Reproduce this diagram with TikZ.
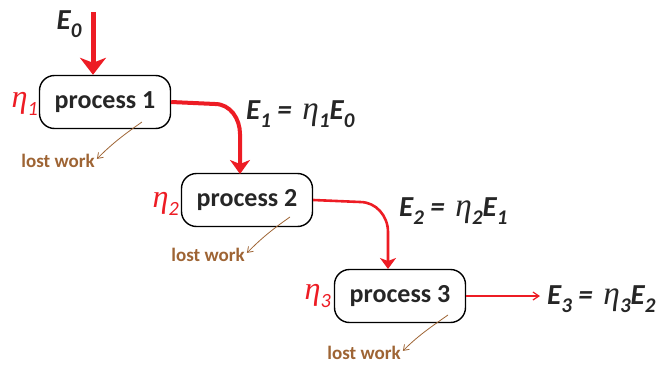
\documentclass[tikz,border=0pt]{standalone}
\usepackage{fontspec}
\setmainfont{Carlito}
\newfontfamily\etafont{Liberation Serif}
\usetikzlibrary{arrows.meta}
\definecolor{rd}{RGB}{237,28,36}
\definecolor{brn}{RGB}{158,100,52}
\newcommand{\lowsub}[1]{\raisebox{-0.28em}{\scalebox{0.72}{#1}}}
\newcommand{\myeta}{{\etafont\itshape\mdseries\fontsize{1.15em}{1em}\selectfont η}}
\begin{document}
\begin{tikzpicture}[x=1pt,y=-1pt,
  proc/.style={draw,line width=1.4pt,rounded corners=15pt,minimum width=131pt,minimum height=53pt,font=\bfseries\fontsize{26}{28}\selectfont,text=black!85,inner sep=0pt},
  eta/.style={text=rd,font=\itshape\fontsize{28}{30}\selectfont,inner sep=0pt},
  elab/.style={font=\bfseries\itshape\fontsize{29}{32}\selectfont,text=black!85,inner sep=0pt},
  lost/.style={text=brn,font=\bfseries\fontsize{19}{21}\selectfont,inner sep=0pt},
  lostarr/.style={draw=brn,line width=0.8pt,shorten >=3pt,-{Straight Barb[length=5pt,width=7pt]}},
  flow/.style={draw=rd}
]
\useasboundingbox (0,0) rectangle (657,367);
\node[proc] (p1) at (105,102) {process 1};
\node[proc] (p2) at (247,200) {process 2};
\node[proc] (p3) at (400,296) {process 3};
\node[eta,anchor=east] (h1) at (38,104) {\myeta\lowsub{1}};
\node[eta,anchor=east] (h2) at (179,204) {\myeta\lowsub{2}};
\node[eta,anchor=east] (h3) at (331,296) {\myeta\lowsub{3}};
\node[elab] (e0) at (69,24) {E\lowsub{0}};
\node[elab,anchor=west] (e1) at (246,114) {E\lowsub{1} =\hspace{4pt} \myeta\lowsub{1}E\lowsub{0}};
\node[elab,anchor=west] (e2) at (399,211) {E\lowsub{2} =\hspace{4pt} \myeta\lowsub{2}E\lowsub{1}};
\node[elab,anchor=west] (e3) at (547,299) {E\lowsub{3} =\hspace{4pt} \myeta\lowsub{3}E\lowsub{2}};
\node[lost] (l1) at (58,161) {lost work};
\node[lost] (l2) at (208,255) {lost work};
\node[lost] (l3) at (364,353) {lost work};
\coordinate (s0) at (93,12);
\draw[flow,line width=5pt,-{Stealth[length=17pt,width=26pt,inset=5pt]}] (s0) -- (p1.north -| s0);
\draw[flow,line width=4pt,-{Stealth[length=14pt,width=20pt,inset=4pt]}] (p1.east) -- (215,104) to[out=0,in=90] (240,134) -- (240,174);
\draw[flow,line width=2.6pt,-{Stealth[length=11pt,width=16pt,inset=3pt]}] (p2.east) -- (360,202) to[out=0,in=90] (388,232) -- (388,269);
\draw[flow,line width=1.2pt,-{Straight Barb[length=6pt,width=8pt]}] (p3.east) -- (540,296);
\coordinate (c1) at (142,122);
\coordinate (c2) at (290,217);
\coordinate (c3) at (448,315);
\draw[lostarr] (c1) to[out=215,in=45] (l1.east);
\draw[lostarr] (c2) to[out=215,in=45] (l2.east);
\draw[lostarr] (c3) to[out=215,in=45] (l3.east);
\end{tikzpicture}
\end{document}
